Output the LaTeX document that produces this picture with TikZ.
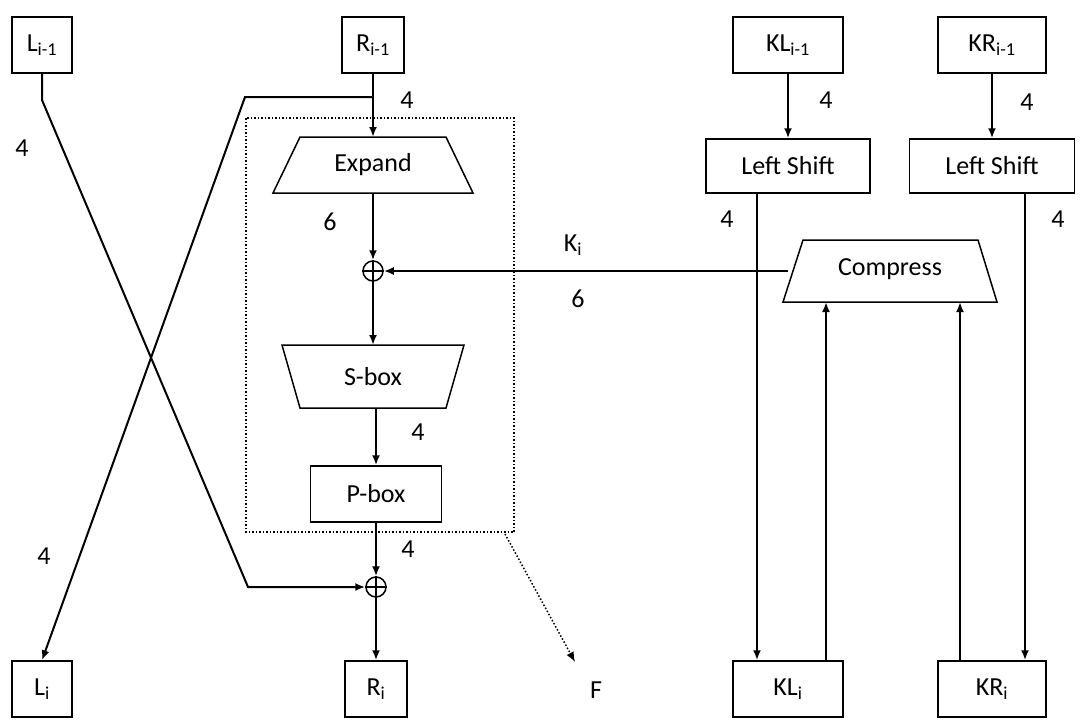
\documentclass[tikz,border=0pt]{standalone}
\usepackage{fontspec}
\setmainfont{Carlito}
\usetikzlibrary{arrows.meta}
\begin{document}
\begin{tikzpicture}[x=1pt,y=-1pt,
  box/.style={draw,line width=1.5pt,minimum height=56pt,inner sep=0pt,font=\fontsize{26}{30}\selectfont},
  lab/.style={font=\fontsize{26}{30}\selectfont,inner sep=0pt},
  arr/.style={line width=2pt,-{Latex[length=10pt,width=8pt]}},
  trap/.style={draw,line width=1.5pt}]
\useasboundingbox (0,0) rectangle (1080,726);
\node[box,minimum width=60pt] (L0) at (42,45) {L\textsubscript{i-1}};
\node[box,minimum width=62pt] (R0) at (373,45) {R\textsubscript{i-1}};
\node[box,minimum width=110pt] (KL0) at (788,45) {KL\textsubscript{i-1}};
\node[box,minimum width=108pt] (KR0) at (992,45) {KR\textsubscript{i-1}};
\node[box,minimum width=164pt,minimum height=54pt] (LS1) at (788,166) {Left Shift};
\node[box,minimum width=165pt,minimum height=54pt] (LS2) at (992,166) {Left Shift};
\node[box,minimum width=60pt] (L1) at (42,689) {L\textsubscript{i}};
\node[box,minimum width=62pt] (R1) at (376,689) {R\textsubscript{i}};
\node[box,minimum width=110pt] (KL1) at (788,689) {KL\textsubscript{i}};
\node[box,minimum width=108pt] (KR1) at (992,689) {KR\textsubscript{i}};
\node[box,minimum width=131pt] (P) at (376,494) {P-box};
% trapezoids
\draw[trap] (300,137) -- (446,137) -- (473,193) -- (273,193) -- cycle;
\node[lab] (E) at (373,165) {Expand};
\coordinate (Et) at (373,137); \coordinate (Eb) at (373,193);
\draw[trap] (282,345) -- (464,345) -- (446,408) -- (300,408) -- cycle;
\node[lab] (S) at (373,377) {S-box};
\coordinate (St) at (373,345); \coordinate (Sb) at (376,408);
\draw[trap] (803,240) -- (978,240) -- (997,302) -- (783,302) -- cycle;
\node[lab] (C) at (890,269) {Compress};
\coordinate (Cl) at (788,271);
\coordinate (Cb1) at (826,302); \coordinate (Cb2) at (960,302);
% xors
\node[draw,circle,line width=1.5pt,minimum size=20pt,inner sep=0pt] (X1) at (373,271) {};
\draw[line width=1.5pt] (X1.north)--(X1.south) (X1.west)--(X1.east);
\node[draw,circle,line width=1.5pt,minimum size=20pt,inner sep=0pt] (X2) at (376,587) {};
\draw[line width=1.5pt] (X2.north)--(X2.south) (X2.west)--(X2.east);
% dotted box
\draw[dotted,line width=1.5pt] (246,118) rectangle (514,532);
\coordinate (Fs) at (505,534); \coordinate (Fe) at (575,662);
\draw[dotted,line width=1.5pt,-{Latex[length=10pt,width=8pt]}] (Fs) -- (Fe);
\node[lab] (F) at (596,690) {F};
% connectors
\coordinate (B) at (373,97); \coordinate (B2) at (245,97);
\draw[arr] (R0.south) -- (Et);
\draw[arr] (B) -- (B2) -- (L1.north);
\coordinate (La) at (42,100); \coordinate (Lb) at (248,587);
\draw[arr] (L0.south) -- (La) -- (Lb) -- (X2.west);
\draw[arr] (Eb) -- (X1.north);
\draw[arr] (X1.south) -- (St);
\draw[arr] (Sb) -- (P.north);
\draw[arr] (P.south) -- (X2.north);
\draw[arr] (X2.south) -- (R1.north);
\draw[arr] (KL0.south) -- (LS1.north);
\draw[arr] (KR0.south) -- (LS2.north);
\draw[arr] (Cl) -- (X1.east);
\draw[arr] (LS1.south -| 757,0) -- (KL1.north -| 757,0);
\draw[arr] (LS2.south -| 1025,0) -- (KR1.north -| 1025,0);
\draw[arr] (KL1.north -| Cb1) -- (Cb1);
\draw[arr] (KR1.north -| Cb2) -- (Cb2);
% labels
\node[lab] at (407,100) {4};
\node[lab] at (22,148) {4};
\node[lab] at (330,222) {6};
\node[lab] at (573,245) {K\textsubscript{i}};
\node[lab] at (578,299) {6};
\node[lab] at (418,432) {4};
\node[lab] at (408,549) {4};
\node[lab] at (44,556) {4};
\node[lab] at (826,100) {4};
\node[lab] at (1027,102) {4};
\node[lab] at (727,219) {4};
\node[lab] at (1058,219) {4};
\end{tikzpicture}
\end{document}
